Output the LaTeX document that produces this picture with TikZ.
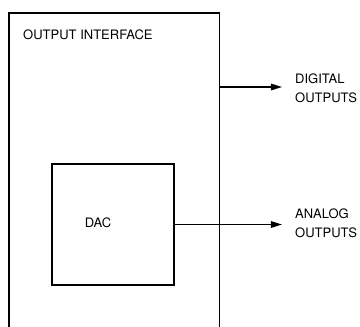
\documentclass[tikz,border=0pt]{standalone}
\usepackage{fontspec}
\setmainfont{TeX Gyre Heros}
\usetikzlibrary{positioning,arrows.meta}

\begin{document}
\begin{tikzpicture}[
  x=1pt, y=-1pt,
  frame/.style={line width=1.6pt},
  block/.style={draw, line width=1.5pt, minimum width=122pt, minimum height=121pt, inner sep=0pt},
  arr/.style={-{Triangle[length=11pt,width=6.5pt]}, line width=1.5pt},
  lab/.style={font=\fontsize{13}{19}\selectfont, inner sep=0pt, align=left}
]
\useasboundingbox (0,0) rectangle (360,327);
% outer interface frame, open at the bottom
\coordinate (ifbl) at (9,327);
\coordinate (ifbr) at (219.5,327);
\draw[frame] (ifbl) -- (9,13) -- (219.5,13) -- (ifbr);
\node[lab, anchor=west] (iftitle) at (23,35) {OUTPUT INTERFACE};

% converter block
\node[block] (dac) at (113,224.5) {};
\node[lab] (dactxt) at (98,223) {DAC};

% outputs
\coordinate (dtap) at (219.5,87);
\node[lab, anchor=west] (dlab) at (295,88) {DIGITAL\\OUTPUTS};
\node[lab, anchor=west] (alab) at (295,223) {ANALOG\\OUTPUTS};
\draw[arr, shorten >=13pt] (dtap) -- (dtap -| dlab.west);
\draw[arr, shorten >=13pt] (dac.east) -- (dac.east -| alab.west);
\end{tikzpicture}
\end{document}
